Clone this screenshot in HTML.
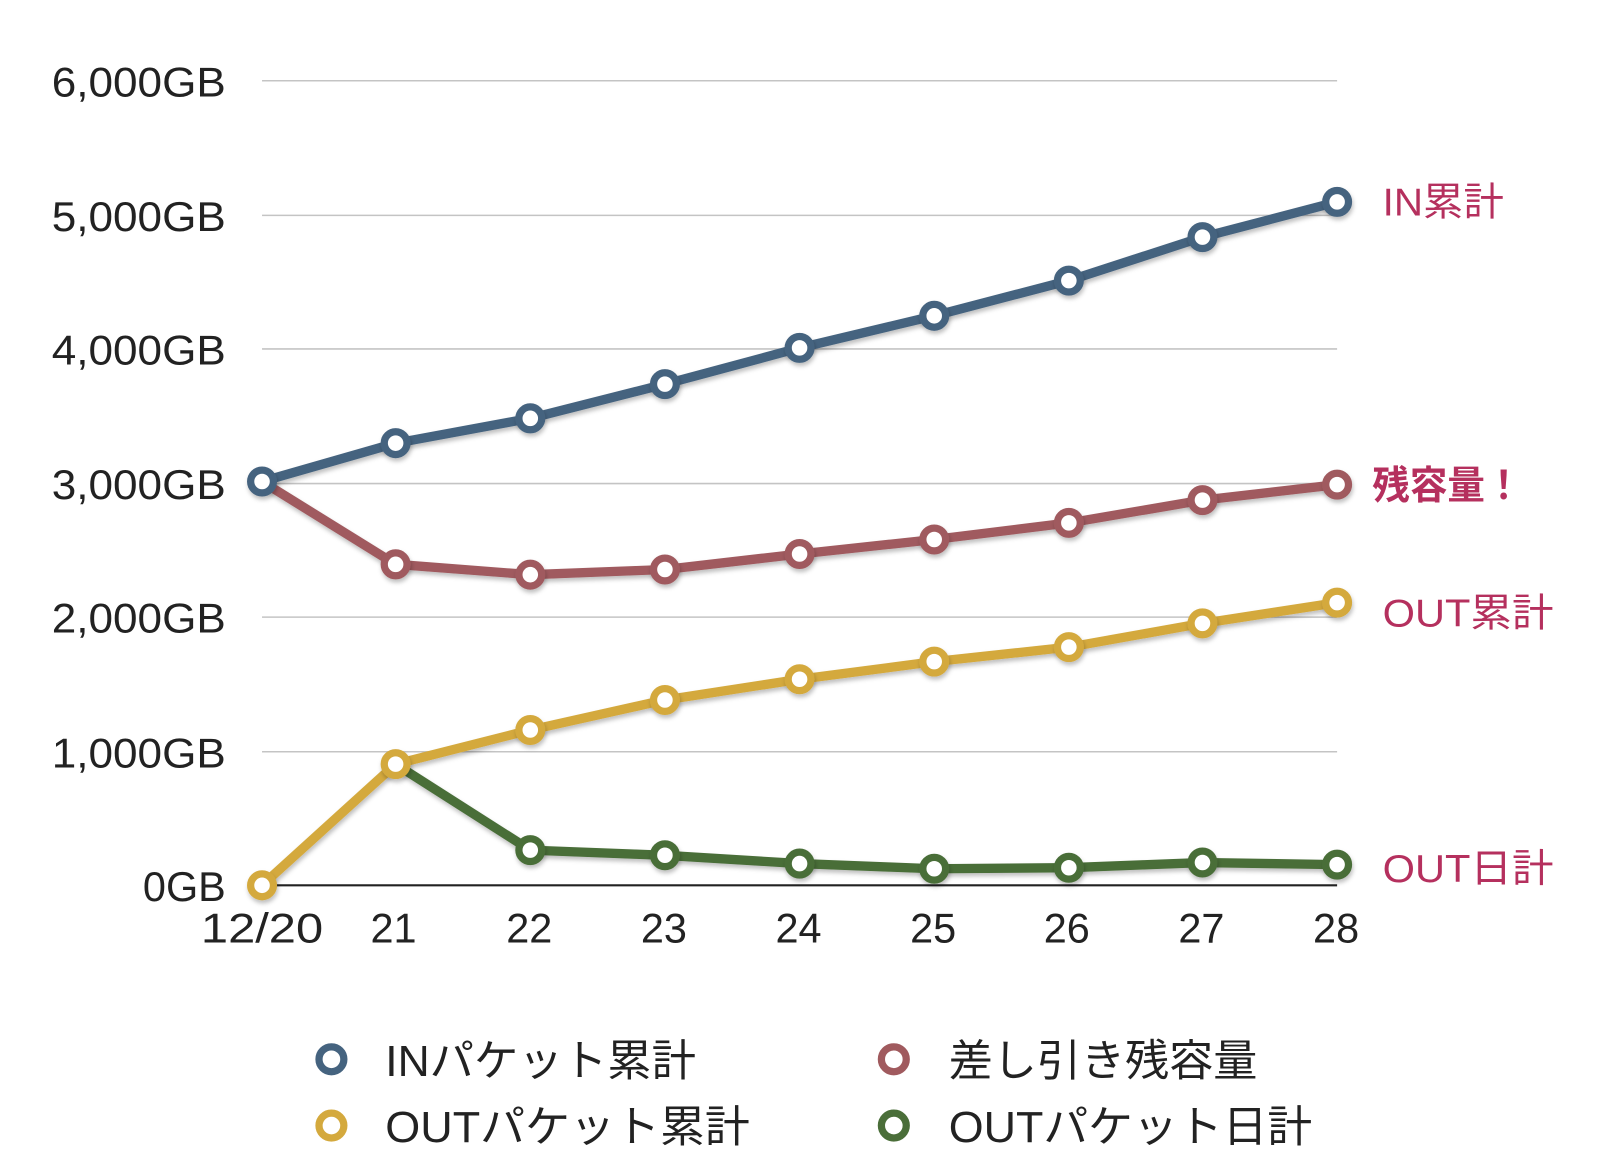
<!DOCTYPE html>
<html><head><meta charset="utf-8"><style>
html,body{margin:0;padding:0;background:#fff;}
svg{display:block;}
text{font-family:"Liberation Sans","Noto Sans CJK JP",sans-serif;}
</style></head><body>
<svg width="1624" height="1168" viewBox="0 0 1568 1128" preserveAspectRatio="none" xmlns="http://www.w3.org/2000/svg">
<defs>
<filter id="sh" x="-10%" y="-10%" width="120%" height="130%"><feDropShadow dx="1" dy="3" stdDeviation="2" flood-color="#000" flood-opacity="0.25"/></filter>
</defs>
<g stroke="#c4c4c4" stroke-width="1.5">
<line x1="253" y1="78" x2="1291" y2="78"/>
<line x1="253" y1="208" x2="1291" y2="208"/>
<line x1="253" y1="337" x2="1291" y2="337"/>
<line x1="253" y1="467" x2="1291" y2="467"/>
<line x1="253" y1="596" x2="1291" y2="596"/>
<line x1="253" y1="726" x2="1291" y2="726"/>
</g>
<line x1="253" y1="855" x2="1291" y2="855" stroke="#222" stroke-width="2"/>
<g font-size="40" fill="#222" text-anchor="end">
<text x="218" y="93" textLength="168" lengthAdjust="spacingAndGlyphs">6,000GB</text>
<text x="218" y="223" textLength="168" lengthAdjust="spacingAndGlyphs">5,000GB</text>
<text x="218" y="352" textLength="168" lengthAdjust="spacingAndGlyphs">4,000GB</text>
<text x="218" y="482" textLength="168" lengthAdjust="spacingAndGlyphs">3,000GB</text>
<text x="218" y="611" textLength="168" lengthAdjust="spacingAndGlyphs">2,000GB</text>
<text x="218" y="741" textLength="168" lengthAdjust="spacingAndGlyphs">1,000GB</text>
<text x="218" y="870">0GB</text>
</g>
<g font-size="40" fill="#222" text-anchor="middle">
<text x="253" y="910" textLength="118" lengthAdjust="spacingAndGlyphs">12/20</text>
<text x="380" y="910">21</text>
<text x="511" y="910">22</text>
<text x="641" y="910">23</text>
<text x="771" y="910">24</text>
<text x="901" y="910">25</text>
<text x="1030" y="910">26</text>
<text x="1160" y="910">27</text>
<text x="1290" y="910">28</text>
</g>
<g fill="none" stroke-width="9" stroke-linejoin="round" filter="url(#sh)">
<polyline stroke="#a05a5e" points="253,465 382,545 512,555 642,550 772,535 902,521 1032,505 1161,483 1291,468"/>
<polyline stroke="#4a6e39" points="382,738 512,821 642,826 772,834 902,839 1032,838 1161,833 1291,835"/>
<polyline stroke="#d4a93d" points="253,855 382,738 512,705 642,676 772,656 902,639 1032,625 1161,602 1291,582"/>
<polyline stroke="#45637f" points="253,465 382,428 512,404 642,371 772,336 902,305 1032,271 1161,229 1291,195"/>
</g>
<g fill="#fff" stroke-width="7" filter="url(#sh)">
<g stroke="#a05a5e"><circle cx="382" cy="545" r="11"/><circle cx="512" cy="555" r="11"/><circle cx="642" cy="550" r="11"/><circle cx="772" cy="535" r="11"/><circle cx="902" cy="521" r="11"/><circle cx="1032" cy="505" r="11"/><circle cx="1161" cy="483" r="11"/><circle cx="1291" cy="468" r="11"/></g>
<g stroke="#4a6e39"><circle cx="512" cy="821" r="11"/><circle cx="642" cy="826" r="11"/><circle cx="772" cy="834" r="11"/><circle cx="902" cy="839" r="11"/><circle cx="1032" cy="838" r="11"/><circle cx="1161" cy="833" r="11"/><circle cx="1291" cy="835" r="11"/></g>
<g stroke="#d4a93d"><circle cx="253" cy="855" r="11"/><circle cx="382" cy="738" r="11"/><circle cx="512" cy="705" r="11"/><circle cx="642" cy="676" r="11"/><circle cx="772" cy="656" r="11"/><circle cx="902" cy="639" r="11"/><circle cx="1032" cy="625" r="11"/><circle cx="1161" cy="602" r="11"/><circle cx="1291" cy="582" r="11"/></g>
<g stroke="#45637f"><circle cx="253" cy="465" r="11"/><circle cx="382" cy="428" r="11"/><circle cx="512" cy="404" r="11"/><circle cx="642" cy="371" r="11"/><circle cx="772" cy="336" r="11"/><circle cx="902" cy="305" r="11"/><circle cx="1032" cy="271" r="11"/><circle cx="1161" cy="229" r="11"/><circle cx="1291" cy="195" r="11"/></g>
</g>
<g font-size="38" fill="#b5305e">
<text x="1335" y="208" textLength="117" lengthAdjust="spacingAndGlyphs">IN累計</text>
<text x="1325" y="482" font-weight="bold" textLength="145" lengthAdjust="spacingAndGlyphs">残容量！</text>
<text x="1335" y="605" textLength="165" lengthAdjust="spacingAndGlyphs">OUT累計</text>
<text x="1335" y="852" textLength="165" lengthAdjust="spacingAndGlyphs">OUT日計</text>
</g>
<g fill="#fff" stroke-width="7">
<circle cx="320" cy="1023" r="12" stroke="#45637f"/>
<circle cx="863" cy="1023" r="12" stroke="#a05a5e"/>
<circle cx="320" cy="1087" r="12" stroke="#d4a93d"/>
<circle cx="863" cy="1087" r="12" stroke="#4a6e39"/>
</g>
<g font-size="42" fill="#222">
<text x="372" y="1039" textLength="300" lengthAdjust="spacingAndGlyphs">INパケット累計</text>
<text x="916" y="1039" textLength="298" lengthAdjust="spacingAndGlyphs">差し引き残容量</text>
<text x="372" y="1103" textLength="352" lengthAdjust="spacingAndGlyphs">OUTパケット累計</text>
<text x="916" y="1103" textLength="351" lengthAdjust="spacingAndGlyphs">OUTパケット日計</text>
</g>
</svg>
</body></html>
